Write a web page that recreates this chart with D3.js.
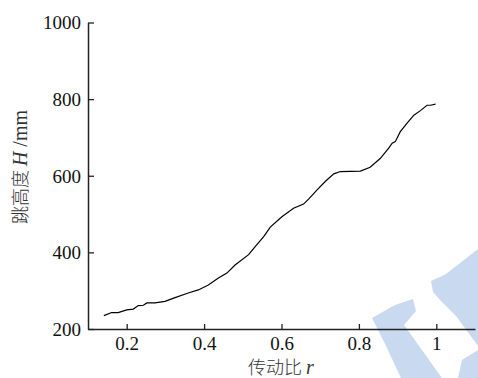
<!doctype html>
<html lang="zh">
<head>
<meta charset="UTF-8">
<title>跳高度 vs 传动比</title>
<style type="text/css">
body {
  margin: 0;
  padding: 0;
  background: #fff;
}
</style>
<script type="text/javascript" src="https://cdn.jsdelivr.net/npm/d3@7/dist/d3.min.js"></script>
</head>
<body>
<div id="chart"></div>
<script type="text/javascript">

// transmission ratio r
var ratio = [0.141, 0.161, 0.178, 0.2, 0.217, 0.23, 0.243, 0.252, 0.273, 0.299,
  0.325, 0.359, 0.385, 0.411, 0.437, 0.459, 0.48, 0.515, 0.532, 0.554,
  0.571, 0.601, 0.631, 0.657, 0.67, 0.692, 0.713, 0.735, 0.752, 0.804,
  0.829, 0.855, 0.877, 0.886, 0.894, 0.907, 0.924, 0.942, 0.959, 0.976,
  0.985, 0.998];
// jump height H (mm)
var height = [235, 243, 243, 250, 252, 261, 262, 268, 268, 272,
  282, 294, 302, 315, 333, 346, 367, 394, 415, 441,
  466, 493, 515, 526, 539, 563, 585, 605, 611, 612,
  622, 645, 672, 685, 689, 715, 737, 758, 770, 784,
  784, 787];

var xTicks = [0.2, 0.4, 0.6, 0.8, 1];
var yTicks = [200, 400, 600, 800, 1000];

var SERIF = '"Liberation Serif", serif';
var CJK = '"Noto Sans CJK SC", sans-serif';

var w = 478, h = 378;
var svg = d3.select('#chart').append('svg')
  .attr('width', w)
  .attr('height', h);

// faint background watermark
var wm = [
  [[372,318],[395,305],[413,299],[416,311],[404,325],[442,378],[401,378],[386,346],[378,330]],
  [[431,281],[446,274],[478,249],[478,346],[456,316],[441,301],[433,292]],
  [[462,360],[478,350],[478,378],[458,378]]
];
svg.selectAll('polygon.wm').data(wm).enter()
  .append('polygon')
  .attr('class', 'wm')
  .attr('points', function(d) { return d.map(function(p) { return p.join(','); }).join(' '); })
  .attr('fill', '#c9daf0');

var x = d3.scaleLinear().domain([0.1, 1.1]).range([88, 475]);
var y = d3.scaleLinear().domain([200, 1000]).range([329, 22.5]);

var xAxis = svg.append('g')
  .attr('transform', 'translate(0,' + 329 + ')')
  .call(d3.axisBottom(x).tickValues(xTicks).tickSizeInner(-5).tickSizeOuter(0)
    .tickFormat(function(d) { return d === 1 ? '1' : d3.format('.1f')(d); }));

var yAxis = svg.append('g')
  .attr('transform', 'translate(' + 88 + ',0)')
  .call(d3.axisLeft(y).tickValues(yTicks).tickSizeInner(-6).tickSizeOuter(0)
    .tickFormat(d3.format('d')));

[xAxis, yAxis].forEach(function(g) {
  g.select('.domain').attr('stroke', '#222').attr('stroke-width', 1.5);
  g.selectAll('.tick line').attr('stroke', '#222').attr('stroke-width', 1.3);
  g.selectAll('.tick text')
    .style('font-family', SERIF)
    .style('font-size', '19px')
    .attr('fill', '#111');
});
xAxis.selectAll('.tick text').attr('y', 8).attr('dy', '0.71em');
yAxis.selectAll('.tick text').attr('x', -7).attr('dy', '0.33em');

var line = d3.line()
  .x(function(d, i) { return x(ratio[i]); })
  .y(function(d, i) { return y(height[i]); });

svg.append('path')
  .datum(height)
  .attr('d', line)
  .attr('fill', 'none')
  .attr('stroke', '#000')
  .attr('stroke-width', 1.2);

// axis titles
var xt = svg.append('text')
  .attr('x', 281)
  .attr('y', 374)
  .style('font-family', CJK)
  .style('font-size', '18px')
  .style('font-weight', 300)
  .attr('fill', '#333')
  .attr('text-anchor', 'middle');
xt.append('tspan').text('传动比 ');
xt.append('tspan').style('font-family', SERIF).style('font-style', 'italic').style('font-size', '20px').text('r');

var yt = svg.append('text')
  .attr('transform', 'translate(27,167) rotate(-90)')
  .style('font-family', CJK)
  .style('font-size', '18px')
  .style('font-weight', 300)
  .attr('fill', '#333')
  .attr('text-anchor', 'middle');
yt.append('tspan').text('跳高度 ');
yt.append('tspan').style('font-family', SERIF).style('font-style', 'italic').style('font-size', '20px').text('H');
yt.append('tspan').style('font-family', SERIF).style('font-size', '20px').text(' /mm');

</script>
</body>
</html>
